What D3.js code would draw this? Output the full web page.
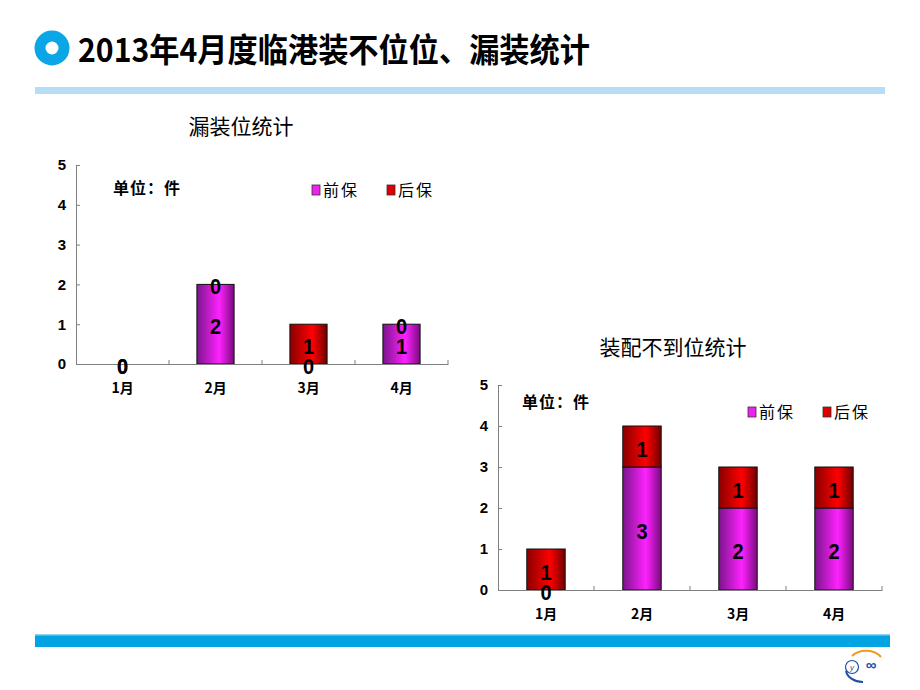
<!DOCTYPE html>
<html><head><meta charset="utf-8">
<script src="https://cdn.jsdelivr.net/npm/d3@7"></script>
<style>body{margin:0;background:#fff}svg{display:block}</style>
</head><body>
<svg id="c" width="920" height="690"></svg>
<script>
const months = ["1月","2月","3月","4月"];
const seriesNames = ["前保","后保"];
const chart1Front = [0,2,0,1];
const chart1Rear  = [0,0,1,0];
const chart2Front = [0,3,2,2];
const chart2Rear  = [1,1,1,1];
const yTicks = [0,1,2,3,4,5];
const mainTitle = "2013年4月度临港装不位位、漏装统计";
const chart1Title = "漏装位统计";
const chart2Title = "装配不到位统计";
const unitText = "单位：件";

const svg = d3.select("#c");
const CJK = "'Noto Sans CJK SC','Noto Sans',sans-serif";
const NUM = "'Liberation Sans',Arial,sans-serif";
const defs = svg.append("defs");
function grad(id, edgeL, mid, edgeR){
  const g = defs.append("linearGradient").attr("id",id).attr("x1","0").attr("x2","1").attr("y1","0").attr("y2","0");
  g.append("stop").attr("offset","0").attr("stop-color",edgeL);
  g.append("stop").attr("offset","0.6").attr("stop-color",mid);
  g.append("stop").attr("offset","1").attr("stop-color",edgeR);
}
grad("gFront","#7a148c","#ff22ff","#7a0a80");
grad("gRear","#8a0000","#ff0000","#700000");
const colors = ["url(#gFront)","url(#gRear)"];
const legendColors = ["#ee22ee","#e00000"];

// header
svg.append("circle").attr("cx",52).attr("cy",48).attr("r",12).attr("fill","none")
  .attr("stroke","#0aa6e6").attr("stroke-width",11);
svg.append("text").attr("transform","translate(78,62) scale(1,1.12)")
  .attr("font-family",CJK).attr("font-weight","bold")
  .attr("font-size",29).attr("textLength",512).attr("lengthAdjust","spacingAndGlyphs")
  .attr("fill","#000").text(mainTitle);
svg.append("rect").attr("x",35).attr("y",87).attr("width",850).attr("height",7).attr("fill","#b5ddf6");
svg.append("rect").attr("x",35).attr("y",634).attr("width",855).attr("height",13).attr("fill","#02a3e2");
svg.append("rect").attr("x",35).attr("y",634).attr("width",855).attr("height",1.5).attr("fill","#8fd2f0");

// logo
const lg = svg.append("g").attr("transform","translate(864,667)");
lg.append("path").attr("d","M-12,-11 A18,14 0 0 1 17,-10").attr("fill","none").attr("stroke","#f39a1e").attr("stroke-width",2);
lg.append("path").attr("d","M-18,4 A17,13 0 0 0 -1,15").attr("fill","none").attr("stroke","#1f4ea3").attr("stroke-width",2);
lg.append("circle").attr("cx",-12).attr("cy",0).attr("r",6.5).attr("fill","none").attr("stroke","#1f4ea3").attr("stroke-width",1.2);
lg.append("text").attr("x",-12).attr("y",3).attr("text-anchor","middle").attr("font-size",8).attr("font-family",NUM).attr("font-style","italic").attr("fill","#1f4ea3").text("y");
lg.append("text").attr("x",7).attr("y",3).attr("text-anchor","middle").attr("font-size",15).attr("font-weight","bold").attr("font-family",NUM).attr("fill","#1f4ea3").text("∞");

function drawChart(cfg){
  const g = svg.append("g");
  const x = d3.scaleBand().domain(months).range([cfg.x0,cfg.x1]).paddingInner(0.6).paddingOuter(0.3);
  const y = d3.scaleLinear().domain([0,5]).range([cfg.y0,cfg.y1]);
  const data = months.map((m,i)=>({month:m, front:cfg.front[i], rear:cfg.rear[i]}));
  const stack = d3.stack().keys(["front","rear"])(data);

  // title
  g.append("text").attr("x",cfg.titleX).attr("y",cfg.titleY).attr("text-anchor","middle")
    .attr("font-family",CJK).attr("font-size",21).attr("fill","#000").text(cfg.title);

  // bars
  stack.forEach((layer,li)=>{
    g.selectAll(null).data(layer).enter().append("rect")
      .attr("x",d=>x(d.data.month)).attr("width",x.bandwidth())
      .attr("y",d=>y(d[1])).attr("height",d=>y(d[0])-y(d[1]))
      .attr("fill",colors[li]).attr("stroke","#111").attr("stroke-width",d=>d[1]>d[0]?1:0);
  });

  // y axis
  const ya = d3.axisLeft(y).tickValues(yTicks).tickFormat(d3.format("d")).tickSizeInner(-4).tickSizeOuter(0).tickPadding(10);
  const yg = g.append("g").attr("transform",`translate(${cfg.x0},0)`).call(ya);
  yg.select(".domain").attr("stroke","#808080");
  yg.selectAll(".tick line").attr("stroke","#808080");
  yg.selectAll("text").attr("font-family",NUM).attr("font-weight","bold").attr("font-size",15).attr("fill","#000");

  // x axis
  const xa = d3.axisBottom(x).tickSize(0).tickPadding(19);
  const xg = g.append("g").attr("transform",`translate(0,${cfg.y0})`).call(xa);
  xg.select(".domain").attr("stroke","#808080");
  xg.selectAll("text").attr("font-family",CJK).attr("font-weight","bold").attr("font-size",14).attr("fill","#000");
  const step = x.step();
  g.selectAll(null).data(months).enter().append("line")
    .attr("x1",(d,i)=>cfg.x0+step*(i+1)).attr("x2",(d,i)=>cfg.x0+step*(i+1))
    .attr("y1",cfg.y0).attr("y2",cfg.y0-4).attr("stroke","#808080");

  // value labels
  stack.forEach((layer,li)=>{
    g.selectAll(null).data(layer).enter().append("text")
      .attr("transform",d=>`translate(${x(d.data.month)+x.bandwidth()/2},${y((d[0]+d[1])/2)+10}) scale(1,1.12)`)
      .attr("text-anchor","middle").attr("font-family",NUM).attr("font-weight","bold")
      .attr("font-size",20).attr("fill","#000").text(d=>d[1]-d[0]);
  });

  // unit
  g.append("text").attr("x",cfg.unitX).attr("y",cfg.unitY).attr("font-family",CJK).attr("font-weight","bold")
    .attr("font-size",16).attr("letter-spacing",1).attr("fill","#000").text(unitText);

  // legend
  seriesNames.forEach((n,i)=>{
    const lx = cfg.legX + i*75;
    g.append("rect").attr("x",lx).attr("y",cfg.legY-5).attr("width",8).attr("height",10)
      .attr("fill",legendColors[i]).attr("stroke","#333").attr("stroke-width",0.8);
    g.append("text").attr("x",lx+11).attr("y",cfg.legY+6).attr("font-family",CJK)
      .attr("font-size",16).attr("letter-spacing",2).attr("fill","#000").text(n);
  });
}

drawChart({x0:76,x1:448,y0:364,y1:165,front:chart1Front,rear:chart1Rear,title:chart1Title,titleX:241,titleY:134,
  unitX:113,unitY:194,legX:312,legY:190});
drawChart({x0:498,x1:882,y0:590,y1:385,front:chart2Front,rear:chart2Rear,title:chart2Title,titleX:673,titleY:355,
  unitX:522,unitY:408,legX:748,legY:412});
</script>
</body></html>
